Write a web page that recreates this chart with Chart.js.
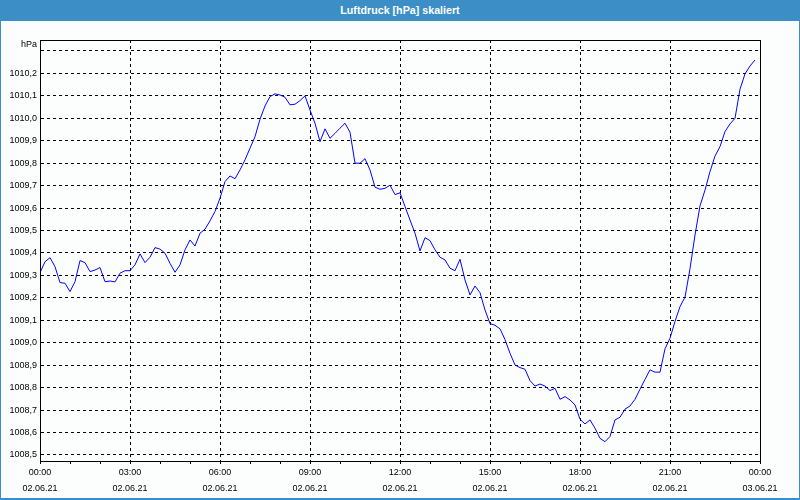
<!DOCTYPE html>
<html>
<head>
<meta charset="utf-8">
<script src="https://cdn.jsdelivr.net/npm/chart.js@4.4.1/dist/chart.umd.min.js"></script>
<style>
  html, body { margin: 0; padding: 0; background: #fcfefd; }
  #wrap { position: relative; width: 800px; height: 500px; background: #fcfefd; overflow: hidden; }
  #title {
    position: absolute; left: 0; top: 0; width: 800px; height: 21px;
    background: #3c8fc6; color: #fff; text-align: center;
    font: bold 10.7px "Liberation Sans", Arial, sans-serif; line-height: 20px;
  }
  #frame {
    position: absolute; left: 0; top: 0; width: 800px; height: 500px; box-sizing: border-box;
    border: 1px solid #3c8fc6; border-bottom-width: 2px; pointer-events: none;
  }
  #chart { position: absolute; left: 0; top: 0; }
</style>
</head>
<body>
<div id="wrap">
  <canvas id="chart" width="800" height="500"></canvas>
  <div id="title">Luftdruck [hPa] skaliert</div>
  <div id="frame"></div>
</div>
<script>
// Luftdruck, one reading every 10 minutes, 02.06.21 00:00 - 23:50
const stepMinutes = 10;
const pressure = [
  1009.312, 1009.361, 1009.379, 1009.339, 1009.268, 1009.265, 1009.228, 1009.272, 1009.366, 1009.357,
  1009.317, 1009.324, 1009.335, 1009.272, 1009.275, 1009.271, 1009.310, 1009.321, 1009.321, 1009.347,
  1009.396, 1009.357, 1009.381, 1009.424, 1009.417, 1009.399, 1009.354, 1009.314, 1009.347, 1009.414,
  1009.458, 1009.431, 1009.488, 1009.506, 1009.543, 1009.585, 1009.644, 1009.718, 1009.743, 1009.731,
  1009.770, 1009.815, 1009.867, 1009.918, 1009.996, 1010.055, 1010.097, 1010.109, 1010.104, 1010.094,
  1010.060, 1010.063, 1010.079, 1010.100, 1010.037, 1009.978, 1009.896, 1009.953, 1009.911, 1009.933,
  1009.956, 1009.978, 1009.938, 1009.800, 1009.800, 1009.820, 1009.770, 1009.693, 1009.684, 1009.688,
  1009.702, 1009.660, 1009.668, 1009.607, 1009.547, 1009.488, 1009.409, 1009.468, 1009.455, 1009.414,
  1009.381, 1009.369, 1009.332, 1009.321, 1009.372, 1009.280, 1009.213, 1009.253, 1009.223, 1009.146,
  1009.085, 1009.078, 1009.062, 1009.014, 1008.953, 1008.901, 1008.889, 1008.882, 1008.831, 1008.807,
  1008.816, 1008.807, 1008.787, 1008.797, 1008.748, 1008.760, 1008.745, 1008.723, 1008.659, 1008.638,
  1008.656, 1008.619, 1008.574, 1008.559, 1008.582, 1008.656, 1008.668, 1008.704, 1008.718, 1008.748,
  1008.793, 1008.837, 1008.879, 1008.869, 1008.869, 1008.973, 1009.020, 1009.095, 1009.161, 1009.203,
  1009.330, 1009.480, 1009.610, 1009.680, 1009.763, 1009.832, 1009.874, 1009.941, 1009.975, 1010.000,
  1010.130, 1010.198, 1010.233, 1010.260
];

// x axis: minutes since 02.06.21 00:00, labelled every 3 hours
const timeLabels = ['00:00', '03:00', '06:00', '09:00', '12:00', '15:00', '18:00', '21:00', '00:00'];
const dateLabels = ['02.06.21', '02.06.21', '02.06.21', '02.06.21', '02.06.21', '02.06.21', '02.06.21', '02.06.21', '03.06.21'];
const yTicks = [1008.5, 1008.6, 1008.7, 1008.8, 1008.9, 1009.0, 1009.1, 1009.2, 1009.3, 1009.4,
  1009.5, 1009.6, 1009.7, 1009.8, 1009.9, 1010.0, 1010.1, 1010.2, 1010.3];

const points = pressure.map((v, i) => ({ x: i * stepMinutes, y: v }));
const labelFont = { family: '"Liberation Sans", Arial, sans-serif', size: 9 };

// frame round the plot area and the unit label
const framePlugin = {
  id: 'frame',
  afterDraw(chart) {
    const { ctx, chartArea: a } = chart;
    ctx.save();
    ctx.strokeStyle = '#000';
    ctx.lineWidth = 1;
    ctx.strokeRect(a.left + 0.5, a.top + 0.5, a.right - a.left, a.bottom - a.top);
    ctx.font = '9px "Liberation Sans", Arial, sans-serif';
    ctx.fillStyle = '#000';
    ctx.textAlign = 'right';
    ctx.textBaseline = 'middle';
    ctx.fillText('hPa', a.left - 3, a.top + 5);
    ctx.restore();
  }
};

const pressureChart = new Chart(document.getElementById('chart'), {
  type: 'line',
  data: {
    datasets: [{
      label: 'Luftdruck',
      data: points,
      borderColor: '#0000ff',
      borderWidth: 1,
      pointRadius: 0,
      tension: 0,
      fill: false
    }]
  },
  options: {
    responsive: false,
    animation: false,
    devicePixelRatio: 1,
    layout: { padding: { left: 0, right: 40, top: 40, bottom: 0 } },
    plugins: {
      legend: { display: false },
      tooltip: { enabled: false }
    },
    scales: {
      x: {
        type: 'linear',
        min: 0,
        max: 1440,
        afterBuildTicks: (scale) => {
          const t = [];
          for (let m = 0; m <= 1440; m += 60) t.push({ value: m });
          scale.ticks = t;
        },
        afterFit: (scale) => { scale.height = 39; },
        ticks: {
          autoSkip: false,
          maxRotation: 0,
          padding: 1,
          color: '#000',
          font: { ...labelFont, lineHeight: '15.5px' },
          callback: (v) => (v % 180 === 0 ? [timeLabels[v / 180], dateLabels[v / 180]] : '')
        },
        grid: {
          color: (ctx) => (ctx.tick && ctx.tick.value % 180 === 0 ? '#000' : 'rgba(0,0,0,0)'),
          lineWidth: 1,
          tickColor: '#000',
          tickLength: 3,
          tickBorderDash: []
        },
        border: { display: true, color: '#000', width: 1, dash: [3, 3] }
      },
      y: {
        min: 1008.473,
        max: 1010.349,
        afterBuildTicks: (scale) => { scale.ticks = yTicks.map((v) => ({ value: v })); },
        afterFit: (scale) => { scale.width = 40; },
        ticks: {
          padding: 3,
          color: '#000',
          font: labelFont,
          callback: (v) => (Math.abs(v - 1010.3) < 0.001 ? '' : v.toFixed(1).replace('.', ','))
        },
        grid: {
          color: '#000',
          lineWidth: 1,
          drawTicks: false
        },
        border: { display: true, color: '#000', width: 1, dash: [3, 3] }
      }
    }
  },
  plugins: [framePlugin]
});
</script>
</body>
</html>
